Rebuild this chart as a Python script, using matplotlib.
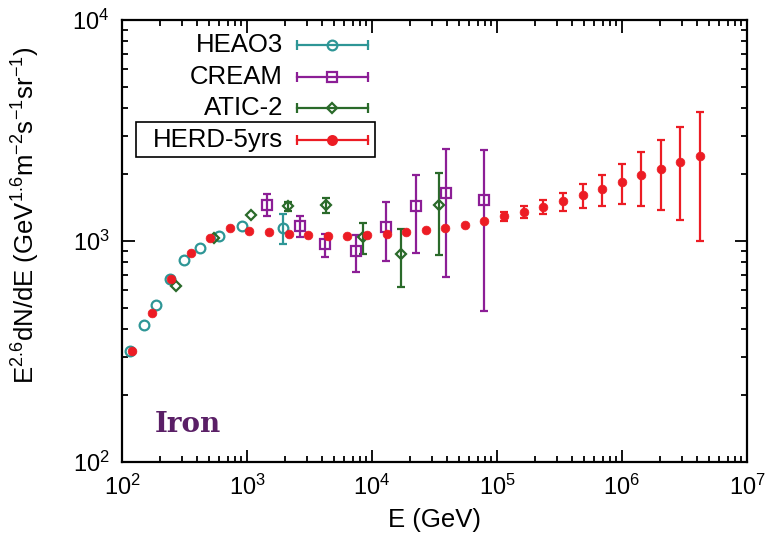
import matplotlib
matplotlib.use("Agg")
import matplotlib.pyplot as plt
import numpy as np

plt.rcParams['font.family'] = ['Liberation Sans', 'DejaVu Sans']
plt.rcParams['mathtext.default'] = 'regular'

# ---------------- data ----------------
heao3_E = [116, 149, 188, 242, 313, 423, 597, 912, 1952]
heao3_F = [319, 417, 513, 673, 823, 927, 1050, 1166, 1145]
heao3_lo = [319, 417, 513, 673, 823, 927, 1050, 1166, 969]
heao3_hi = [319, 417, 513, 673, 823, 927, 1050, 1166, 1325]

cream_E = [1437, 2655, 4207, 7407, 12870, 22490, 39080, 79130]
cream_F = [1460, 1173, 969, 898, 1157, 1436, 1649, 1533]
cream_lo = [1302, 1039, 849, 722, 814, 880, 685, 484]
cream_hi = [1632, 1302, 1076, 1068, 1497, 1989, 2608, 2589]

atic_E = [270, 545, 1067, 2140, 4285, 8520, 17060, 34170]
atic_F = [628, 1035, 1307, 1445, 1455, 1039, 876, 1450]
atic_lo = [628, 1035, 1307, 1371, 1335, 876, 617, 862]
atic_hi = [628, 1035, 1307, 1497, 1561, 1202, 1133, 2037]

herd_E = [120, 173, 247, 354, 509, 727, 1043, 1508, 2168, 3094, 4446, 6344,
          9120, 13110, 18710, 26890, 38590, 55460, 79130, 113800, 163500,
          234700, 337300, 484900, 695700, 1.0e6, 1.427e6, 2.051e6, 2.927e6,
          4.207e6]
herd_F = [317, 474, 673, 880, 1028, 1141, 1113, 1095, 1079, 1064, 1057, 1057,
          1064, 1079, 1095, 1121, 1149, 1185, 1236, 1291, 1353, 1430, 1517,
          1610, 1719, 1843, 1983, 2124, 2278, 2417]
herd_lo = [317, 474, 673, 880, 1028, 1141, 1113, 1095, 1079, 1064, 1057, 1057,
           1064, 1079, 1095, 1121, 1149, 1185, 1236, 1232, 1275, 1321, 1367,
           1415, 1445, 1466, 1445, 1385, 1248, 1003]
herd_hi = [317, 474, 673, 880, 1028, 1141, 1113, 1095, 1079, 1064, 1057, 1057,
           1064, 1079, 1095, 1121, 1149, 1185, 1236, 1349, 1436, 1538, 1654,
           1811, 1989, 2231, 2536, 2873, 3290, 3823]

labels = ['HEAO3', 'CREAM', 'ATIC-2', 'HERD-5yrs']
colors = ['#2e9696', '#8c1e96', '#2a6a2a', '#ec1c24']

# ---------------- figure ----------------
fig = plt.figure(figsize=(7.78, 5.44), dpi=100)
ax = fig.add_axes([122/778, 1-462/544, 625/778, 442/544])
ax.set_xscale('log')
ax.set_yscale('log')
ax.set_xlim(1e2, 1e7)
ax.set_ylim(1e2, 1e4)


def draw(E, F, lo, hi, color, marker, ms, mfc, mew, zorder):
    E = np.array(E, float); F = np.array(F, float)
    lo = np.array(lo, float); hi = np.array(hi, float)
    has = (hi - lo) > 0
    if has.any():
        ax.errorbar(E[has], F[has], yerr=[F[has]-lo[has], hi[has]-F[has]],
                    fmt='none', ecolor=color, elinewidth=1.6, capsize=2.8,
                    capthick=1.6, zorder=zorder)
    ax.plot(E, F, linestyle='none', marker=marker, ms=ms, mfc=mfc,
            mec=color, mew=mew, zorder=zorder+0.5)


draw(heao3_E, heao3_F, heao3_lo, heao3_hi, colors[0], 'o', 7, 'none', 1.6, 3)
draw(cream_E, cream_F, cream_lo, cream_hi, colors[1], 's', 6.5, 'none', 1.6, 3)
draw(atic_E, atic_F, atic_lo, atic_hi, colors[2], 'D', 5, 'none', 1.6, 3)
draw(herd_E, herd_F, herd_lo, herd_hi, colors[3], 'o', 6.3, colors[3], 0.5, 4)

# ---------------- legend (gnuplot style) ----------------
def fx(px):
    return (px - 122) / 625


def fy(py):
    return (462 - py) / 442


rows = [44.5, 76.7, 108.3, 140]
mk = [('o', 7, 'none'), ('s', 6.5, 'none'), ('D', 5, 'none'), ('o', 6.3, colors[3])]
for lab, col, yy, (m, ms, mfc) in zip(labels, colors, rows, mk):
    ax.plot([fx(297), fx(368)], [fy(yy), fy(yy)], color=col, lw=1.6,
            transform=ax.transAxes, clip_on=False, zorder=5)
    ax.plot([fx(297), fx(368)], [fy(yy), fy(yy)], linestyle='none', marker='|',
            ms=6.5, mew=1.6, color=col, transform=ax.transAxes, zorder=5)
    ax.plot([fx(332)], [fy(yy)], linestyle='none', marker=m, ms=ms, mfc=mfc,
            mec=col, mew=1.6, transform=ax.transAxes, zorder=6)
    ax.text(fx(283), fy(yy), lab, ha='right', va='center', fontsize=18.5,
            transform=ax.transAxes)

box = plt.Rectangle((fx(136), fy(156.5)), fx(375) - fx(136), fy(122) - fy(156.5),
                    transform=ax.transAxes, fill=False, lw=1.2, ec='black')
ax.add_patch(box)

ax.text(fx(155), fy(424), 'Iron', fontsize=20, fontweight='bold',
        family='DejaVu Serif', color='#5a1f66', ha='left', va='center',
        transform=ax.transAxes)

# ---------------- axes styling ----------------
for sp in ax.spines.values():
    sp.set_linewidth(1.6)
ax.tick_params(which='both', direction='in', top=True, right=True, width=1.3)
ax.tick_params(which='major', length=9, labelsize=17, pad=9)
ax.tick_params(which='minor', length=4.5)
ax.set_xticks([1e2, 1e3, 1e4, 1e5, 1e6, 1e7])
ax.set_yticks([1e2, 1e3, 1e4])

ax.set_xlabel('E (GeV)', fontsize=18.5, labelpad=6)
ax.set_ylabel(r'E$^{2.6}$dN/dE (GeV$^{1.6}$m$^{-2}$s$^{-1}$sr$^{-1}$)',
              fontsize=18.5)
ax.yaxis.set_label_coords(fx(42), fy(215))

fig.savefig('out.png', dpi=100)
